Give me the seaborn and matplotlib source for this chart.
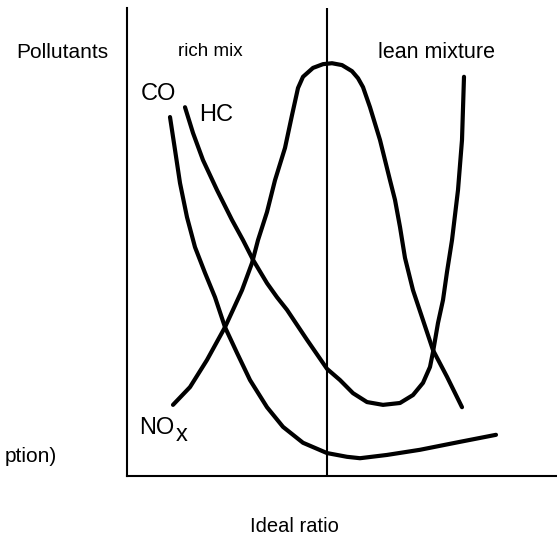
import numpy as np
import pandas as pd
import matplotlib
matplotlib.use("Agg")
import matplotlib.pyplot as plt
import seaborn as sns

# ---- data (air ratio lambda vs. relative pollutant level) ----
co_x = [0.686, 0.696, 0.706, 0.720, 0.736, 0.756, 0.776, 0.796, 0.820, 0.846,
        0.880, 0.912, 0.952, 1.000, 1.040, 1.066, 1.120, 1.186, 1.266, 1.338]
co_y = [76.7, 69.7, 62.6, 55.3, 48.9, 43.4, 38.2, 31.8, 26.3, 20.5,
        14.7, 10.5, 7.1, 4.9, 4.1, 3.8, 4.5, 5.6, 7.3, 8.8]

hc_x = [0.716, 0.732, 0.752, 0.780, 0.810, 0.832, 0.852, 0.880, 0.900, 0.920,
        0.960, 1.000, 1.026, 1.052, 1.080, 1.112, 1.146, 1.172, 1.192, 1.206,
        1.212, 1.222, 1.232, 1.240, 1.250, 1.262, 1.270, 1.274]
hc_y = [78.8, 73.3, 67.5, 61.1, 54.7, 50.4, 46.2, 41.2, 38.2, 35.5,
        29.1, 22.9, 20.5, 17.7, 15.8, 15.2, 15.6, 17.3, 19.9, 23.3,
        26.5, 32.7, 37.6, 43.6, 50.4, 61.1, 71.8, 85.3]

nox_x = [0.692, 0.726, 0.760, 0.796, 0.812, 0.830, 0.850, 0.862, 0.880, 0.896,
         0.916, 0.930, 0.942, 0.952, 0.972, 0.992, 1.010, 1.030, 1.050, 1.062,
         1.072, 1.086, 1.106, 1.126, 1.136, 1.146, 1.156, 1.172, 1.192, 1.212,
         1.240, 1.270]
nox_y = [15.2, 19.0, 24.8, 31.8, 35.5, 39.7, 45.5, 50.4, 56.4, 63.2,
         70.1, 77.1, 82.9, 85.3, 87.2, 88.0, 88.2, 87.8, 86.5, 85.0,
         83.1, 78.8, 71.8, 63.2, 59.0, 53.2, 46.6, 39.7, 33.3, 26.9,
         21.2, 14.7]

df = pd.concat([
    pd.DataFrame({"lambda": co_x, "level": co_y, "pollutant": "CO"}),
    pd.DataFrame({"lambda": hc_x, "level": hc_y, "pollutant": "HC"}),
    pd.DataFrame({"lambda": nox_x, "level": nox_y, "pollutant": "NOx"}),
], ignore_index=True)

sns.set_theme(style="white")
plt.rcParams["font.family"] = ["Liberation Sans", "DejaVu Sans"]

W, H = 557, 539
fig = plt.figure(figsize=(W / 100, H / 100), dpi=100)
ax = fig.add_axes([127 / W, (H - 476) / H, 1 - 127 / W, (476 - 8) / H])

sns.lineplot(data=df, x="lambda", y="level", hue="pollutant", units="pollutant",
             estimator=None, sort=False, palette=["black"] * 3,
             linewidth=3.0, legend=False, ax=ax,
             solid_joinstyle="round", solid_capstyle="round")

ax.axvline(1.0, color="black", linewidth=1.5)
ax.set_xlim(0.6, 1.46)
ax.set_ylim(0, 100)
ax.set_xticks([])
ax.set_yticks([])
ax.set_xlabel("")
ax.set_ylabel("")
for s in ["top", "right"]:
    ax.spines[s].set_visible(False)
for s in ["left", "bottom"]:
    ax.spines[s].set_color("black")
    ax.spines[s].set_linewidth(1.5)


def ft(x, y, s, size, ha="left", va="center"):
    fig.text(x / W, 1 - y / H, s, fontsize=size, ha=ha, va=va, color="black")


ft(62, 52, "Pollutants", 15, ha="center")
ft(210, 52, "rich mix", 13.5, ha="center")
ft(437, 52, "lean mixture", 15.5, ha="center")
ft(141, 94, "CO", 17)
ft(199, 115, "HC", 17)
ft(139, 428, "NO", 17)
ft(176, 435, "x", 17)
ft(57, 456, "ption)", 15, ha="right")
ft(294, 526, "Ideal ratio", 14.5, ha="center")

fig.savefig("out.png", dpi=100)
